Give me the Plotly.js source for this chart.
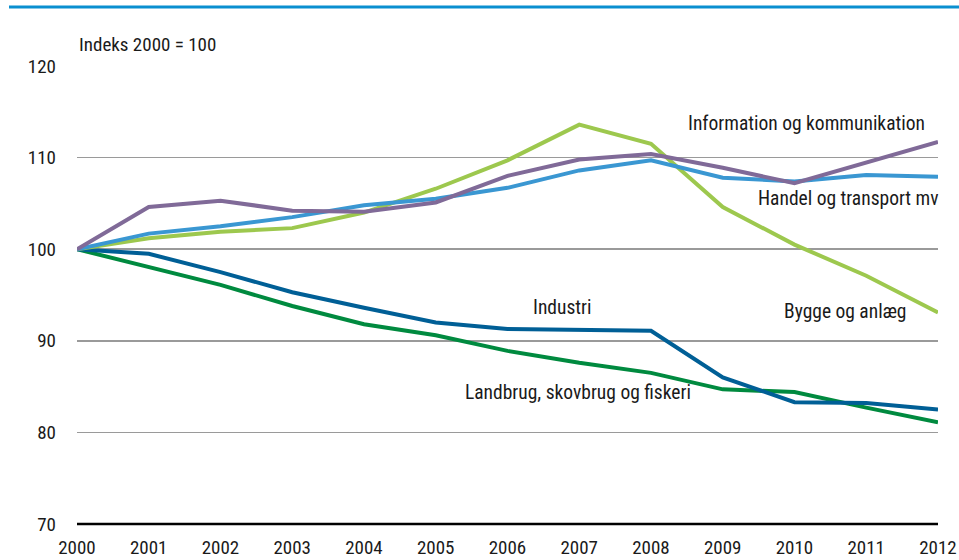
<!DOCTYPE html>
<html>
<head>
<meta charset="utf-8">
<script src="https://cdn.plot.ly/plotly-3.0.1.min.js"></script>
<style>html,body{margin:0;padding:0;background:#fff;}#chart{width:959px;height:560px;}</style>
</head>
<body>
<div id="chart"></div>
<script>
const years = [2000,2001,2002,2003,2004,2005,2006,2007,2008,2009,2010,2011,2012];
const information = [100,104.6,105.3,104.2,104.1,105.1,108.0,109.8,110.4,108.9,107.2,109.4,111.7];
const handel = [100,101.7,102.5,103.5,104.8,105.5,106.7,108.6,109.7,107.8,107.4,108.1,107.9];
const bygge = [100,101.2,101.9,102.3,104.0,106.6,109.7,113.6,111.5,104.6,100.5,97.1,93.1];
const industri = [100,99.5,97.5,95.3,93.6,92.0,91.3,91.2,91.1,86.0,83.3,83.2,82.5];
const landbrug = [100,98.1,96.1,93.8,91.8,90.6,88.9,87.6,86.5,84.7,84.4,82.7,81.1];
const seriesNames = ["Information og kommunikation","Handel og transport mv","Bygge og anlæg","Industri","Landbrug, skovbrug og fiskeri"];
const yTicks = [70,80,90,100,110,120];
const yAxisNote = "Indeks 2000 = 100";

const FONT = "'Liberation Sans Narrow','Arial Narrow','Roboto Condensed','Liberation Sans',Arial,sans-serif";
const colors = ["#806a98","#3a97d2","#9dc84e","#005f96","#008a3f"];
const data = [landbrug, industri, bygge, handel, information];
const order = [4,3,2,1,0];
const traces = order.map((si,i)=>({
  x: years, y: data[i], type:'scatter', mode:'lines', name: seriesNames[si],
  line:{color: colors[si], width:4}, hoverinfo:'skip'
}));

const labelPos = [
  {t:seriesNames[0], x:2010.17, y:113.7},
  {t:seriesNames[1], x:2010.75, y:105.5},
  {t:seriesNames[2], x:2010.70, y:93.25},
  {t:seriesNames[3], x:2006.77, y:93.6},
  {t:seriesNames[4], x:2006.98, y:84.4}
];
const annotations = labelPos.map(a=>({
  x:a.x, y:a.y, xref:'x', yref:'y', text:a.t, showarrow:false,
  xanchor:'center', yanchor:'middle', font:{family:FONT, size:19.5, color:'#1a1a1a'}
}));
annotations.push({x:0, y:1+22/458, xref:'paper', yref:'paper', text:yAxisNote, showarrow:false,
  xanchor:'left', yanchor:'middle', font:{family:FONT, size:19, color:'#1a1a1a'}});

const layout = {
  width:959, height:560,
  margin:{l:77, r:21, t:66, b:36},
  paper_bgcolor:'#fff', plot_bgcolor:'#fff',
  showlegend:false,
  font:{family:FONT, size:18, color:'#1a1a1a'},
  xaxis:{
    range:[2000,2012], tickmode:'array', tickvals:years, ticktext:years.map(String),
    showgrid:false, zeroline:false, showline:false, ticks:'', ticklabelstandoff:10,
    tickfont:{family:FONT, size:19, color:'#1a1a1a'}, fixedrange:true
  },
  yaxis:{
    range:[70,120], tickmode:'array', tickvals:yTicks, ticktext:yTicks.map(String),
    showgrid:true, gridcolor:'#9a9a9a', gridwidth:1.5, zeroline:false, showline:false,
    ticks:'', ticklabelstandoff:20, tickfont:{family:FONT, size:19, color:'#1a1a1a'}, fixedrange:true
  },
  shapes:[
    {type:'line', xref:'paper', yref:'paper', x0:0, x1:1, y0:0, y1:0, line:{color:'#000', width:2.5}},
    {type:'line', xref:'paper', yref:'paper', x0:-68/861, x1:(959-77)/861, y0:1+59/458, y1:1+59/458, line:{color:'#0a8fd0', width:3}}
  ],
  annotations: annotations
};
Plotly.newPlot('chart', traces, layout, {staticPlot:true, displayModeBar:false});
</script>
</body>
</html>
